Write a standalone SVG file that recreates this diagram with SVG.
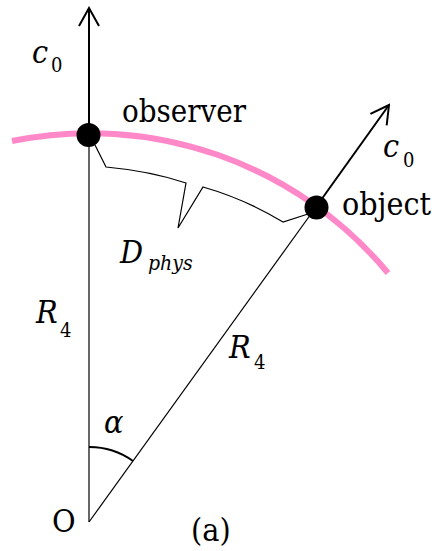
<svg xmlns="http://www.w3.org/2000/svg" width="438" height="551" viewBox="0 0 438 551">
<style>
text{font-family:'DejaVu Serif Condensed','DejaVu Serif', serif;fill:#000}
.m{font-style:italic;font-size:32px}
.s{font-size:20px}
.si{font-style:italic;font-size:21px}
.w{font-size:32px}
.thin{stroke:#000;stroke-width:1.2;fill:none}
.arr{stroke:#000;stroke-width:2;fill:none}
</style>
<defs>
<marker id="ah" markerUnits="userSpaceOnUse" viewBox="-20 -12 22 24" refX="0" refY="0" markerWidth="22" markerHeight="24" orient="auto">
<path d="M-18,-10 L0,0 L-18,10" fill="none" stroke="#000" stroke-width="2"/>
</marker>
</defs>
<g id="sphere">
<path d="M12,141 A388,388 0 0 1 388,273" fill="none" stroke="#ff88c8" stroke-width="6"/>
</g>
<g id="connectors">
<line class="thin" x1="89" y1="522" x2="89" y2="135"/>
<line class="thin" x1="89" y1="522" x2="316" y2="207"/>
<line class="arr" x1="89" y1="135" x2="89" y2="8" marker-end="url(#ah)"/>
<line class="arr" x1="316" y1="207" x2="389" y2="105" marker-end="url(#ah)"/>
<path class="thin" d="M95,145 L106,167 Q150,171 186,183 L178,228 L203,187 Q245,199 283,222 L308,214"/>
<path d="M89,447 A75,75 0 0 1 133,461" fill="none" stroke="#000" stroke-width="2"/>
</g>
<g id="observer">
<circle cx="88.5" cy="135" r="12" fill="#000"/>
<text class="w" x="122" y="122" textLength="124" lengthAdjust="spacingAndGlyphs">observer</text>
</g>
<g id="object">
<circle cx="316.5" cy="207.5" r="12" fill="#000"/>
<text class="w" x="342" y="215" textLength="89" lengthAdjust="spacingAndGlyphs">object</text>
</g>
<g id="labels">
<text class="m" x="32" y="63">c</text><text class="s" x="51" y="72">0</text>
<text class="m" x="383" y="157">c</text><text class="s" x="403" y="167">0</text>
<text class="m" x="120" y="263">D</text><text class="si" x="148" y="270">phys</text>
<text class="m" x="36" y="323">R</text><text class="s" x="60" y="337">4</text>
<text class="m" x="229" y="358">R</text><text class="s" x="254" y="369">4</text>
<text class="m" x="104" y="433">α</text>
<text class="w" x="52" y="532">O</text>
<text class="w" x="191" y="541">(a)</text>
</g>
</svg>
